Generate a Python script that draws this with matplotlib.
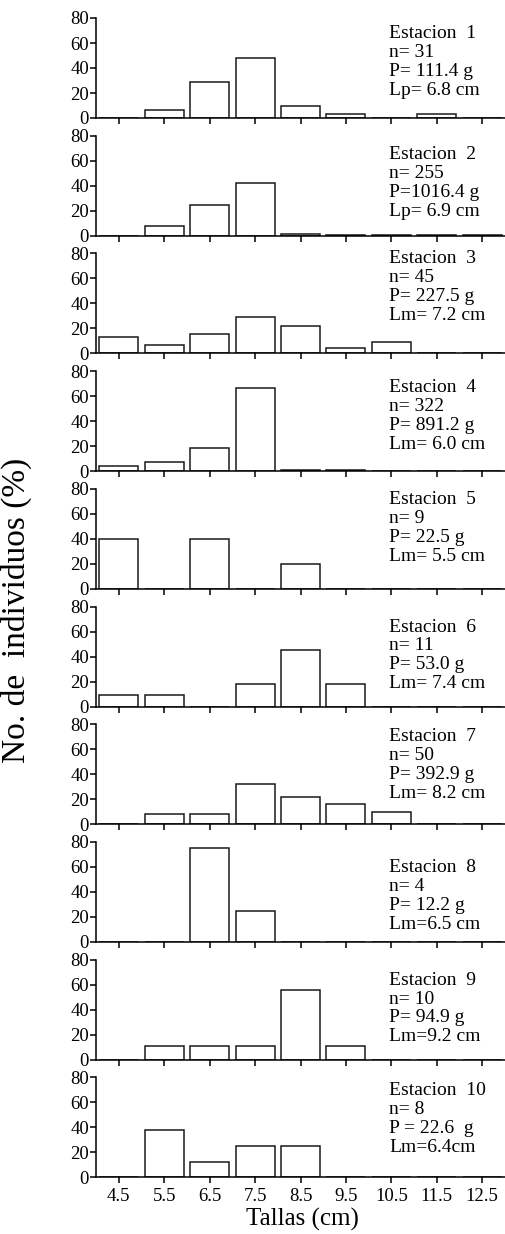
import matplotlib
matplotlib.use("Agg")
import matplotlib.pyplot as plt
import numpy as np

plt.rcParams['font.family'] = ['Liberation Serif', 'DejaVu Serif']

# size classes (cm)
tallas = [4.5, 5.5, 6.5, 7.5, 8.5, 9.5, 10.5, 11.5, 12.5]
tick_labels = ['4.5', '5.5', '6.5', '7.5', '8.5', '9.5', '10.5', '11.5', '12.5']

# % of individuals per size class, one list per station
est1 = [0, 6.5, 29.0, 48.4, 9.7, 3.2, 0, 3.2, 0]
est2 = [0, 7.7, 24.5, 42.5, 1.2, 0.4, 0.4, 0.8, 0.8]
est3 = [13.3, 6.7, 15.6, 28.9, 22.2, 4.4, 8.9, 0, 0]
est4 = [4.3, 7.5, 18.3, 66.5, 1.2, 0.9, 0.4, 0, 0]
est5 = [40.0, 0, 40.0, 0, 20.0, 0, 0, 0, 0]
est6 = [9.1, 9.1, 0, 18.2, 45.5, 18.2, 0, 0, 0]
est7 = [0, 8.0, 8.0, 32.0, 22.0, 16.0, 10.0, 0, 0]
est8 = [0, 0, 75.0, 25.0, 0, 0, 0, 0, 0]
est9 = [0, 11.1, 11.1, 11.1, 55.6, 11.1, 0, 0, 0]
est10 = [0, 37.5, 12.5, 25.0, 25.0, 0, 0, 0, 0]

estaciones = [est1, est2, est3, est4, est5, est6, est7, est8, est9, est10]

etiquetas = [
    "Estacion  1\nn= 31\nP= 111.4 g\nLp= 6.8 cm",
    "Estacion  2\nn= 255\nP=1016.4 g\nLp= 6.9 cm",
    "Estacion  3\nn= 45\nP= 227.5 g\nLm= 7.2 cm",
    "Estacion  4\nn= 322\nP= 891.2 g\nLm= 6.0 cm",
    "Estacion  5\nn= 9\nP= 22.5 g\nLm= 5.5 cm",
    "Estacion  6\nn= 11\nP= 53.0 g\nLm= 7.4 cm",
    "Estacion  7\nn= 50\nP= 392.9 g\nLm= 8.2 cm",
    "Estacion  8\nn= 4\nP= 12.2 g\nLm=6.5 cm",
    "Estacion  9\nn= 10\nP= 94.9 g\nLm=9.2 cm",
    "Estacion  10\nn= 8\nP = 22.6  g\nLm=6.4cm",
]

# offset (px) of the label block from the panel top
label_off = [7, 10, -3, 8, 2, 12, 4, 17, 12, 5]

W, H = 505, 1234
fig = plt.figure(figsize=(W / 100, H / 100), dpi=100)

left = 96 / W
width = 409 / W
for i, vals in enumerate(estaciones):
    top = 18 + 117.7 * i
    ax = fig.add_axes([left, 1 - (top + 100) / H, width, 100 / H])
    ax.bar(tallas, vals, width=0.86, color='white', edgecolor='#1a1a1a',
           linewidth=1.1, zorder=2)
    ax.set_xlim(4.0, 13.0)
    ax.set_ylim(0, 80)
    ax.set_yticks([0, 20, 40, 60, 80])
    ax.set_xticks(tallas)
    ax.spines['right'].set_visible(False)
    ax.spines['top'].set_visible(False)
    ax.spines['left'].set_linewidth(1.1)
    ax.spines['bottom'].set_linewidth(1.1)
    ax.spines['bottom'].set_zorder(3)
    ax.tick_params(direction='out', length=4, width=1.1, labelsize=13.5, pad=1)
    if i == len(estaciones) - 1:
        ax.set_xticklabels(tick_labels, fontsize=13.5)
        ax.tick_params(axis='x', pad=4)
    else:
        ax.set_xticklabels([])
    ax.text(10.45, 80 - label_off[i] * 0.8, etiquetas[i], fontsize=14,
            ha='left', va='top', linespacing=1.15, clip_on=False)

fig.text(16 / W, 1 - 610 / H, 'No. de  individuos (%)', rotation=90,
         fontsize=24, ha='center', va='center')
fig.text(302 / W, 1 - 1219 / H, 'Tallas (cm)', fontsize=18,
         ha='center', va='center')

fig.savefig('out.png', dpi=100)
